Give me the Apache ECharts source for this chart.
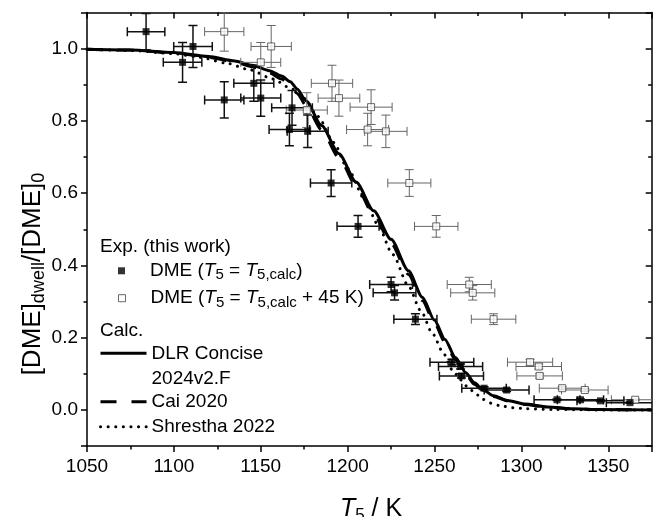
<!DOCTYPE html>
<html><head><meta charset="utf-8">
<script src="https://cdn.jsdelivr.net/npm/echarts@6/dist/echarts.min.js"></script>
<style>html,body{margin:0;padding:0;background:#fff}#c{width:653px;height:517px}</style>
</head><body><div id="c"></div>
<script>
// ---- data ----
const filledT = [1084, 1111, 1105, 1146, 1129, 1150, 1168, 1166.5, 1177, 1190.5, 1206, 1225, 1227, 1239, 1260, 1265, 1265.5, 1278.5, 1291.5, 1320.5, 1334, 1345.5, 1362.5];
const filledY = [1.047, 1.006, 0.962, 0.904, 0.858, 0.863, 0.836, 0.776, 0.771, 0.628, 0.508, 0.347, 0.324, 0.251, 0.132, 0.120, 0.094, 0.060, 0.055, 0.028, 0.028, 0.025, 0.020];
const filledXErr = [10.8, 11.1, 11.1, 11.5, 11.3, 11.5, 11.7, 11.7, 11.8, 11.9, 12.1, 12.3, 12.3, 12.4, 12.6, 12.7, 12.7, 12.8, 12.9, 13.2, 13.3, 13.5, 13.6];
const filledYErr = [0.050, 0.058, 0.055, 0.050, 0.050, 0.050, 0.048, 0.045, 0.045, 0.037, 0.030, 0.020, 0.020, 0.015, 0.008, 0.007, 0.006, 0.004, 0.004, 0.002, 0.002, 0.002, 0.002];

const openT = [1129, 1156, 1150, 1191, 1176.5, 1195, 1213.5, 1211.5, 1222, 1235.5, 1251, 1270, 1272, 1284, 1305, 1310, 1310.5, 1323.5, 1336.5, 1365.5];
const openY = [1.047, 1.006, 0.962, 0.904, 0.830, 0.863, 0.838, 0.776, 0.771, 0.628, 0.508, 0.347, 0.324, 0.251, 0.132, 0.120, 0.094, 0.060, 0.055, 0.028];
const openXErr = [11.3, 11.6, 11.5, 11.9, 11.8, 12.0, 12.1, 12.1, 12.2, 12.4, 12.5, 12.7, 12.7, 12.8, 13.0, 13.1, 13.1, 13.2, 13.4, 13.7];
const openYErr = [0.054, 0.058, 0.055, 0.050, 0.048, 0.050, 0.048, 0.045, 0.045, 0.037, 0.030, 0.020, 0.020, 0.015, 0.008, 0.007, 0.006, 0.004, 0.004, 0.002];

const dlrT = [1050, 1075, 1100, 1120, 1135, 1145, 1155, 1162, 1167, 1171, 1176, 1185, 1195, 1205, 1215, 1225, 1235, 1243, 1250, 1256, 1262, 1268, 1273, 1278, 1284, 1292, 1302, 1315, 1330, 1345, 1375];
const dlrY = [0.998, 0.996, 0.989, 0.978, 0.966, 0.954, 0.939, 0.924, 0.908, 0.888, 0.856, 0.787, 0.709, 0.630, 0.551, 0.472, 0.385, 0.312, 0.248, 0.195, 0.145, 0.103, 0.075, 0.055, 0.039, 0.026, 0.016, 0.008, 0.003, 0.001, 0.000];
const caiT = [1050, 1075, 1100, 1120, 1135, 1145, 1155, 1162, 1167, 1171, 1176, 1185, 1195, 1205, 1215, 1225, 1235, 1243, 1250, 1256, 1262, 1268, 1273, 1278, 1284, 1292, 1302, 1315, 1330, 1345, 1375];
const caiY = [0.998, 0.996, 0.988, 0.976, 0.963, 0.950, 0.933, 0.916, 0.898, 0.876, 0.843, 0.775, 0.698, 0.619, 0.540, 0.461, 0.375, 0.303, 0.240, 0.188, 0.139, 0.098, 0.071, 0.052, 0.037, 0.025, 0.015, 0.007, 0.003, 0.001, 0.000];
const shrT = [1050, 1075, 1100, 1115, 1130, 1144, 1157, 1167, 1175, 1183, 1192, 1200, 1210, 1217, 1226, 1235, 1242, 1249, 1255, 1260, 1265, 1269, 1274, 1278, 1283, 1288, 1295, 1303, 1320, 1340, 1375];
const shrY = [0.998, 0.995, 0.986, 0.976, 0.960, 0.941, 0.916, 0.891, 0.862, 0.812, 0.740, 0.668, 0.582, 0.516, 0.430, 0.343, 0.275, 0.210, 0.158, 0.112, 0.083, 0.064, 0.043, 0.029, 0.018, 0.011, 0.006, 0.003, 0.001, 0.000, 0.000];

const xTicks = {min: 1050, max: 1375, step: 50};
const yTicks = {min: -0.1, max: 1.1};

const nameFilled = 'DME (T5 = T5,calc)';
const nameOpen = 'DME (T5 = T5,calc + 45 K)';
const nameDLR = 'DLR Concise 2024v2.F';
const nameCai = 'Cai 2020';
const nameShr = 'Shrestha 2022';

// ---- chart ----
const FONT = '"Liberation Sans", Arial, Helvetica, sans-serif';
const chart = echarts.init(document.getElementById('c'), null, {renderer: 'canvas'});

const zip2 = (a, b) => a.map((v, i) => [v, b[i]]);
const zip4 = (a, b, c, d) => a.map((v, i) => [v, b[i], c[i], d[i]]);

function errRender(color, width) {
  return function (params, api) {
    const x = api.value(0), y = api.value(1), xe = api.value(2), ye = api.value(3);
    const L = api.coord([x - xe, y]), R = api.coord([x + xe, y]);
    const T = api.coord([x, y + ye]), B = api.coord([x, y - ye]);
    const cap = 4.5;
    const st = {stroke: color, lineWidth: width, fill: null};
    const kids = [
      {type: 'line', shape: {x1: L[0], y1: L[1], x2: R[0], y2: R[1]}, style: st},
      {type: 'line', shape: {x1: L[0], y1: L[1] - cap, x2: L[0], y2: L[1] + cap}, style: st},
      {type: 'line', shape: {x1: R[0], y1: R[1] - cap, x2: R[0], y2: R[1] + cap}, style: st}
    ];
    if (Math.abs(T[1] - B[1]) > 1) {
      kids.push({type: 'line', shape: {x1: T[0], y1: T[1], x2: B[0], y2: B[1]}, style: st});
      kids.push({type: 'line', shape: {x1: T[0] - cap, y1: T[1], x2: T[0] + cap, y2: T[1]}, style: st});
      kids.push({type: 'line', shape: {x1: B[0] - cap, y1: B[1], x2: B[0] + cap, y2: B[1]}, style: st});
    }
    return {type: 'group', children: kids};
  };
}

const rich = {
  n: {fontSize: 19, fontFamily: FONT, color: '#000', lineHeight: 24},
  i: {fontSize: 19, fontFamily: FONT, color: '#000', lineHeight: 24, fontStyle: 'italic'},
  s: {fontSize: 15, fontFamily: FONT, color: '#000', lineHeight: 11, verticalAlign: 'bottom'}
};
const legendText = {
  [nameFilled]: '{n|DME (}{i|T}{s|5}{n| = }{i|T}{s|5,calc}{n|)}',
  [nameOpen]: '{n|DME (}{i|T}{s|5}{n| = }{i|T}{s|5,calc}{n| + 45 K)}'
};

const axisCommon = {
  axisLine: {show: true, onZero: false, lineStyle: {color: '#000', width: 1.5}},
  splitLine: {show: false},
  minorSplitLine: {show: false}
};

function lineLegend(name, top, lineStyle, text) {
  return {
    data: [{name: name}],
    left: 99, top: top, orient: 'vertical', padding: 0, itemGap: 0,
    itemWidth: 46, itemHeight: 14, selectedMode: false,
    itemStyle: {opacity: 0},
    lineStyle: lineStyle,
    formatter: () => text,
    textStyle: {fontSize: 19, fontFamily: FONT, color: '#000', lineHeight: 25}
  };
}

const option = {
  animation: false,
  backgroundColor: '#fff',
  grid: {left: 87, right: 1.3, top: 12.5, bottom: 71, containLabel: false},
  xAxis: [
    Object.assign({}, axisCommon, {
      type: 'value', position: 'bottom', min: xTicks.min, max: xTicks.max, interval: xTicks.step,
      axisTick: {show: true, inside: false, length: 6, lineStyle: {color: '#000', width: 1.5}},
      minorTick: {show: true, splitNumber: 2, length: 3.5, lineStyle: {color: '#000', width: 1.5}},
      axisLabel: {fontSize: 19, fontFamily: FONT, color: '#000', margin: 11, showMaxLabel: false,
        formatter: v => String(v)}
    }),
    Object.assign({}, axisCommon, {
      type: 'value', position: 'top', min: xTicks.min, max: xTicks.max, interval: xTicks.step,
      axisTick: {show: true, inside: true, length: 6, lineStyle: {color: '#000', width: 1.5}},
      minorTick: {show: true, splitNumber: 2, length: 3.5, lineStyle: {color: '#000', width: 1.5}},
      axisLabel: {show: false}
    })
  ],
  yAxis: [
    Object.assign({}, axisCommon, {
      type: 'value', position: 'left', min: yTicks.min, max: yTicks.max, splitNumber: 6,
      axisTick: {show: true, inside: false, length: 6, lineStyle: {color: '#000', width: 1.5}},
      minorTick: {show: true, splitNumber: 2, length: 3.5, lineStyle: {color: '#000', width: 1.5}},
      axisLabel: {fontSize: 19, fontFamily: FONT, color: '#000', margin: 9, showMinLabel: false, showMaxLabel: false,
        formatter: v => (Math.abs(v) < 1e-9 ? 0 : v).toFixed(1)}
    }),
    Object.assign({}, axisCommon, {
      type: 'value', position: 'right', min: yTicks.min, max: yTicks.max, splitNumber: 6,
      axisTick: {show: true, inside: true, length: 6, lineStyle: {color: '#000', width: 1.5}},
      minorTick: {show: true, splitNumber: 2, length: 3.5, lineStyle: {color: '#000', width: 1.5}},
      axisLabel: {show: false}
    })
  ],
  legend: [
    {
      data: [{name: nameFilled, icon: 'rect', itemStyle: {color: '#000', borderWidth: 0}}],
      left: 118, top: 261.3, padding: 0, itemWidth: 7, itemHeight: 7, selectedMode: false,
      formatter: n => legendText[n], textStyle: {rich: rich, padding: [0, 0, 0, 20]}
    },
    {
      data: [{name: nameOpen, icon: 'rect', itemStyle: {color: '#fff', borderColor: '#444', borderWidth: 1}}],
      left: 118, top: 288.7, padding: 0, itemWidth: 7, itemHeight: 7, selectedMode: false,
      formatter: n => legendText[n], textStyle: {rich: rich, padding: [0, 0, 0, 20]}
    },
    lineLegend(nameDLR, 315.8, {color: '#000', width: 3, type: 'solid'}, '\nDLR Concise\n2024v2.F'),
    lineLegend(nameCai, 389.2, {color: '#000', width: 3, type: [16, 15]}, 'Cai 2020'),
    lineLegend(nameShr, 414.2, {color: '#000', width: 3, type: [0.1, 7.5], cap: 'round'}, 'Shrestha 2022')
  ],
  graphic: [
    {type: 'text', left: 100, top: 237, style: {text: 'Exp. (this work)', fontSize: 19, fontFamily: FONT, fill: '#000'}},
    {type: 'text', left: 100, top: 321, style: {text: 'Calc.', fontSize: 19, fontFamily: FONT, fill: '#000'}},
    {type: 'text', x: 33, y: 274, rotation: Math.PI / 2,
      style: {text: '{n|[DME]}{s|dwell}{n|/[DME]}{s|0}', align: 'center', verticalAlign: 'middle', fill: '#000',
        rich: {n: {fontSize: 26, fontFamily: FONT, color: '#000', lineHeight: 30},
               s: {fontSize: 18, fontFamily: FONT, color: '#000', lineHeight: 12, verticalAlign: 'bottom'}}}},
    {type: 'text', x: 371, y: 509,
      style: {text: '{i|T}{s|5}{n| / K}', align: 'center', verticalAlign: 'middle', fill: '#000',
        rich: {n: {fontSize: 25, fontFamily: FONT, color: '#000', lineHeight: 30},
               i: {fontSize: 25, fontFamily: FONT, color: '#000', lineHeight: 30, fontStyle: 'italic'},
               s: {fontSize: 17, fontFamily: FONT, color: '#000', lineHeight: 12, verticalAlign: 'bottom'}}}}
  ],
  series: [
    {name: nameShr, type: 'line', data: zip2(shrT, shrY), symbol: 'none', smooth: 0.25, smoothMonotone: 'x', z: 2,
      lineStyle: {color: '#000', width: 3, type: [0.1, 7.5], cap: 'round'}, itemStyle: {color: '#000'}},
    {name: nameCai, type: 'line', data: zip2(caiT, caiY), symbol: 'none', smooth: 0.25, smoothMonotone: 'x', z: 2,
      lineStyle: {color: '#000', width: 3, type: [16, 15]}, itemStyle: {color: '#000'}},
    {name: nameDLR, type: 'line', data: zip2(dlrT, dlrY), symbol: 'none', smooth: 0.25, smoothMonotone: 'x', z: 2,
      lineStyle: {color: '#000', width: 3}, itemStyle: {color: '#000'}},
    {type: 'custom', name: 'errOpen', data: zip4(openT, openY, openXErr, openYErr), encode: {x: 0, y: 1},
      renderItem: errRender('#666', 1), clip: true, z: 3, silent: true},
    {type: 'custom', name: 'errFilled', data: zip4(filledT, filledY, filledXErr, filledYErr), encode: {x: 0, y: 1},
      renderItem: errRender('#111', 1.5), clip: true, z: 3, silent: true},
    {name: nameOpen, type: 'scatter', data: zip2(openT, openY), symbol: 'rect', symbolSize: 7, z: 4,
      itemStyle: {color: '#fff', borderColor: '#444', borderWidth: 1}},
    {name: nameFilled, type: 'scatter', data: zip2(filledT, filledY), symbol: 'rect', symbolSize: 7, z: 4,
      itemStyle: {color: '#000'}}
  ]
};
chart.setOption(option);
</script>
</body></html>
